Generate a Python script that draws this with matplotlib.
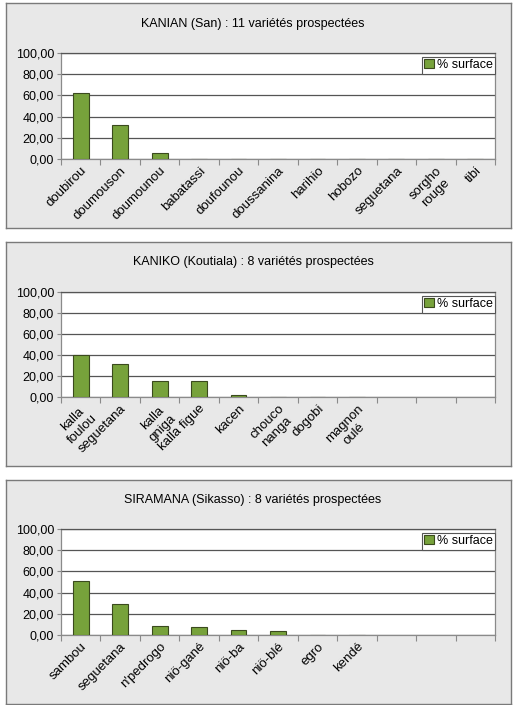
import matplotlib
matplotlib.use("Agg")
import matplotlib.pyplot as plt
from matplotlib.ticker import FixedLocator, FuncFormatter

plt.rcParams['font.family'] = ['Liberation Sans', 'DejaVu Sans']

##### DATA #####
titles = ["KANIAN (San) : 11 variétés prospectées",
          "KANIKO (Koutiala) : 8 variétés prospectées",
          "SIRAMANA (Sikasso) : 8 variétés prospectées"]

kanian_labels = ["doubirou", "doumouson", "doumounou", "babatassi", "doufounou",
                 "doussanina", "harihio", "hobozo", "seguetana", "sorgho\nrouge", "tibi"]
kanian_values = [62.5, 32.2, 5.4, 0, 0, 0, 0, 0, 0, 0, 0]

kaniko_labels = ["kalla\nfoulou", "seguetana", "kalla\ngniga", "kalla figue", "kacen",
                 "chouco\nnanga", "dogobi", "magnon\noulé"]
kaniko_values = [39.8, 31.5, 14.8, 14.8, 1.8, 0, 0, 0]

siramana_labels = ["sambou", "seguetana", "n'pedrogo", "niö-gané", "niö-ba",
                   "niö-blé", "egro", "kendé"]
siramana_values = [50.7, 29.1, 8.5, 7.6, 5.0, 4.2, 0, 0]

yticks = [0, 20, 40, 60, 80, 100]
legend_label = "% surface"

##### LAYOUT (pixels) #####
W, H = 514, 705
N_SLOTS = 11
panels = [  # panel box (x0, y0, x1, y1), plot box (x0, y0, x1, y1), title y
    ((6, 3, 511, 228), (61, 53, 495, 159), 24),
    ((6, 242, 511, 466), (61, 292, 495, 397), 262),
    ((6, 480, 511, 704), (61, 529, 495, 635), 500),
]
datasets = [(kanian_labels, kanian_values),
            (kaniko_labels, kaniko_values),
            (siramana_labels, siramana_values)]

BAR_COLOR = "#77a23b"
BAR_EDGE = "#3b4a1e"
BG = "#e8e8e8"
GRID = "#555555"
SPINE = "#8a8a8a"


def rect(x0, y0, x1, y1):
    return [x0 / W, 1 - y1 / H, (x1 - x0) / W, (y1 - y0) / H]


fig = plt.figure(figsize=(W / 100, H / 100), dpi=100)
fig.patch.set_facecolor("white")

for (pbox, abox, ty), title, (labels, values) in zip(panels, titles, datasets):
    # panel background with border
    bg = fig.add_axes(rect(*pbox))
    bg.set_facecolor(BG)
    bg.set_xticks([])
    bg.set_yticks([])
    for s in bg.spines.values():
        s.set_color("#7a7a7a")
        s.set_linewidth(1.0)
    fig.text(253 / W, 1 - ty / H, title, ha="center", va="center", fontsize=9)

    ax = fig.add_axes(rect(*abox))
    ax.set_facecolor("white")
    x = list(range(len(values)))
    ax.bar(x, values, width=0.4, color=BAR_COLOR, edgecolor=BAR_EDGE,
           linewidth=0.8, label=legend_label, zorder=3)
    ax.set_xlim(-0.5, N_SLOTS - 0.5)
    ax.set_ylim(0, 100)

    # y axis
    ax.set_yticks(yticks)
    ax.yaxis.set_major_formatter(FuncFormatter(lambda v, p: ("%.2f" % v).replace(".", ",")))
    ax.yaxis.grid(True, color=GRID, linewidth=0.9, zorder=1)
    ax.tick_params(axis="y", length=3, width=0.8, color=SPINE, labelsize=9, pad=2)

    # x axis: ticks at slot boundaries, labels at centres
    ax.xaxis.set_major_locator(FixedLocator([i - 0.5 for i in range(N_SLOTS + 1)]))
    ax.xaxis.set_major_formatter(FuncFormatter(lambda v, p: ""))
    ax.xaxis.set_minor_locator(FixedLocator(x))
    ax.set_xticklabels(labels, minor=True, rotation=45, ha="right", va="top",
                       rotation_mode="anchor", multialignment="center",
                       fontsize=9.5, linespacing=1.25)
    ax.tick_params(axis="x", which="major", length=4, width=0.8, color=SPINE)
    ax.tick_params(axis="x", which="minor", length=0, pad=4)

    for side in ["left", "bottom", "right"]:
        ax.spines[side].set_color(SPINE)
        ax.spines[side].set_linewidth(0.9)
    ax.spines["top"].set_color(GRID)
    ax.spines["top"].set_linewidth(0.9)

    leg = ax.legend(loc="upper right", bbox_to_anchor=(1.0, 0.965), fontsize=9,
                    handlelength=0.75, handleheight=0.75, handletextpad=0.25,
                    borderpad=0.2, borderaxespad=0.0, fancybox=False,
                    framealpha=1, edgecolor="#555555")
    leg.get_frame().set_linewidth(0.8)

fig.savefig("out.png", dpi=100, facecolor="white")
